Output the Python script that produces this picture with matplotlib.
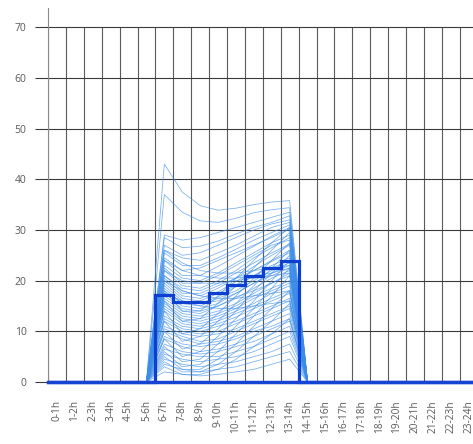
import numpy as np
import matplotlib
matplotlib.use("Agg")
import matplotlib.pyplot as plt

plt.rcParams['font.family'] = ['Open Sans', 'DejaVu Sans']

# ==========================================
# DATA
# ==========================================
hour_labels = [f"{h}-{h + 1}h" for h in range(24)]

# active hours (6-7h ... 13-14h); all other hours are zero
first_active = 6

# one row per day, values for 6-7h .. 13-14h
daily_profiles = [
    [43.0, 37.5, 34.8, 33.9, 34.3, 35.0, 35.5, 35.8],
    [37.0, 33.5, 31.8, 31.5, 32.3, 33.4, 34.0, 34.4],
    [29.0, 28.0, 28.5, 29.5, 30.5, 31.5, 32.5, 33.5],
    [28.5, 26.5, 26.8, 27.8, 29.2, 30.5, 31.5, 32.8],
    [27.0, 25.0, 25.5, 27.0, 28.5, 30.0, 31.2, 32.0],
    [26.0, 24.5, 24.0, 25.5, 27.0, 28.8, 30.5, 31.5],
    [25.5, 23.0, 23.0, 24.5, 26.2, 28.0, 29.5, 31.0],
    [24.5, 22.0, 22.5, 24.0, 25.5, 27.0, 28.5, 30.2],
    [24.0, 21.0, 21.0, 22.8, 24.8, 26.8, 28.8, 30.5],
    [23.0, 20.5, 20.0, 21.5, 23.5, 25.5, 27.5, 29.0],
    [22.5, 19.5, 19.5, 21.0, 23.0, 25.0, 27.0, 28.0],
    [22.0, 19.0, 18.5, 20.0, 22.0, 24.5, 26.5, 28.5],
    [21.0, 18.5, 18.0, 19.5, 21.5, 23.5, 25.5, 27.2],
    [21.0, 18.0, 17.0, 18.5, 20.5, 22.8, 25.0, 27.0],
    [20.5, 17.5, 17.5, 19.0, 20.5, 22.0, 23.8, 25.5],
    [20.0, 17.0, 16.5, 17.8, 19.8, 22.0, 24.0, 26.0],
    [19.5, 16.5, 16.0, 17.5, 19.0, 21.0, 23.0, 24.5],
    [19.0, 16.0, 15.5, 16.8, 18.8, 21.0, 22.5, 24.0],
    [18.5, 15.5, 15.0, 16.5, 18.0, 20.0, 22.0, 23.5],
    [18.0, 15.5, 15.5, 16.0, 17.5, 19.5, 21.5, 23.0],
    [17.5, 15.0, 14.5, 15.5, 17.5, 19.5, 21.0, 22.5],
    [17.0, 14.5, 14.0, 15.0, 16.5, 18.5, 20.5, 22.0],
    [16.5, 14.0, 13.5, 15.0, 16.8, 18.0, 19.5, 21.0],
    [16.0, 13.5, 13.0, 14.0, 15.5, 17.5, 19.5, 21.5],
    [15.5, 13.0, 12.5, 13.5, 15.0, 17.0, 18.5, 20.0],
    [15.0, 12.5, 12.0, 13.0, 14.5, 16.5, 18.0, 19.5],
    [14.5, 12.0, 11.5, 12.5, 14.0, 15.5, 17.5, 19.0],
    [14.0, 11.5, 11.0, 12.0, 13.5, 15.0, 16.5, 18.0],
    [13.0, 11.0, 10.5, 11.5, 12.8, 14.5, 16.0, 17.5],
    [12.5, 10.5, 10.0, 11.0, 12.0, 13.5, 15.0, 16.5],
    [12.0, 10.0, 9.5, 10.0, 11.5, 13.0, 14.5, 16.0],
    [11.0, 9.5, 9.0, 9.5, 10.5, 12.0, 13.5, 15.0],
    [10.5, 9.0, 8.0, 8.5, 10.0, 11.5, 13.0, 14.5],
    [10.0, 8.5, 7.5, 8.0, 9.0, 10.5, 12.0, 13.5],
    [9.0, 7.5, 7.0, 7.5, 8.5, 10.0, 11.0, 12.5],
    [8.5, 7.0, 6.0, 6.5, 7.5, 9.0, 10.5, 12.0],
    [7.5, 6.0, 5.5, 6.0, 7.0, 8.0, 9.5, 11.0],
    [6.5, 5.5, 5.0, 5.0, 6.0, 7.0, 8.5, 10.0],
    [5.5, 4.5, 4.0, 4.5, 5.0, 6.0, 7.5, 9.0],
    [4.5, 3.5, 3.0, 3.5, 4.0, 5.0, 6.0, 7.5],
    [3.5, 2.5, 2.0, 2.5, 3.0, 4.0, 5.0, 6.0],
    [2.0, 1.5, 1.2, 1.5, 2.0, 2.5, 3.5, 4.5],
    [12.0, 8.0, 9.0, 12.0, 15.5, 19.0, 22.5, 26.0],
    [10.0, 6.5, 7.5, 10.5, 14.0, 18.0, 21.5, 25.0],
    [8.5, 5.0, 6.0, 9.0, 12.5, 16.0, 20.0, 24.0],
    [7.0, 4.0, 4.5, 7.5, 11.0, 14.5, 18.5, 22.5],
    [6.0, 3.0, 3.5, 6.0, 9.5, 13.0, 17.0, 21.0],
    [14.0, 9.5, 10.5, 13.5, 17.0, 20.5, 24.0, 27.5],
    [16.0, 12.0, 12.5, 15.5, 19.0, 22.5, 26.0, 29.5],
    [18.0, 14.0, 14.0, 17.0, 20.5, 24.0, 27.5, 30.5],
    [5.0, 2.5, 2.5, 4.5, 7.5, 11.0, 14.5, 18.0],
    [4.0, 2.0, 2.0, 3.5, 6.0, 9.0, 12.0, 15.5],
    [3.0, 1.5, 1.5, 2.5, 4.5, 7.0, 9.5, 12.5],
    [22.0, 20.0, 19.5, 19.5, 20.0, 20.5, 21.0, 21.5],
    [26.0, 23.5, 22.0, 21.5, 21.5, 22.0, 22.5, 23.0],
    [20.0, 18.0, 17.0, 16.5, 16.5, 17.0, 17.5, 18.0],
    [17.5, 16.0, 15.0, 14.5, 14.5, 15.0, 15.5, 16.0],
    [24.0, 22.0, 21.0, 20.5, 20.5, 21.0, 21.5, 22.5],
]

# average profile (thick step line), 6-7h .. 13-14h
average_profile = [17.2, 15.7, 15.7, 17.5, 19.1, 20.9, 22.5, 23.9]

y_ticks = [0, 10, 20, 30, 40, 50, 60, 70]

# ==========================================
# FIGURE
# ==========================================
fig = plt.figure(figsize=(4.73, 4.44), dpi=100)
ax = fig.add_axes([48 / 473, 62 / 444, 24 * 17.9 / 473, 374 / 444])

n_hours = len(hour_labels)
centers = np.arange(n_hours) + 0.5
edges = np.arange(n_hours + 1)

# vertical grid at hour boundaries, only up to 70
ax.vlines(edges, 0, 70, color="#5a5a5a", lw=0.8, zorder=1)
for yv in y_ticks:
    ax.axhline(yv, color="#3a3a3a", lw=0.8, zorder=1)

# individual days
for prof in daily_profiles:
    full = np.zeros(n_hours)
    full[first_active:first_active + len(prof)] = prof
    ax.plot(centers, full, color="#3a8ce8", lw=0.55, alpha=0.7, zorder=2,
            clip_on=False)

# average as steps
avg_full = np.zeros(n_hours)
avg_full[first_active:first_active + len(average_profile)] = average_profile
ax.stairs(avg_full, edges, color="#0d3fd0", lw=2.3, zorder=3, clip_on=False)
ax.plot([0, 24], [0, 0], color="#1643d4", lw=2.5, zorder=3, clip_on=False)

ax.set_xlim(0, 24)
ax.set_ylim(0, 73.8)

ax.set_yticks(y_ticks)
ax.set_xticks(centers)
ax.set_xticklabels(hour_labels, rotation=90, va="top")

ax.tick_params(axis="y", length=9.5, width=0.8, color="#3a3a3a", pad=6,
               labelsize=7.5, labelcolor="#595959")
ax.tick_params(axis="x", length=0, pad=13, labelsize=7.3, labelcolor="#595959")

for side in ["top", "right", "bottom"]:
    ax.spines[side].set_visible(False)
ax.spines["left"].set_color("#8a8a8a")
ax.spines["left"].set_linewidth(0.8)

fig.savefig("out.png", dpi=100)
